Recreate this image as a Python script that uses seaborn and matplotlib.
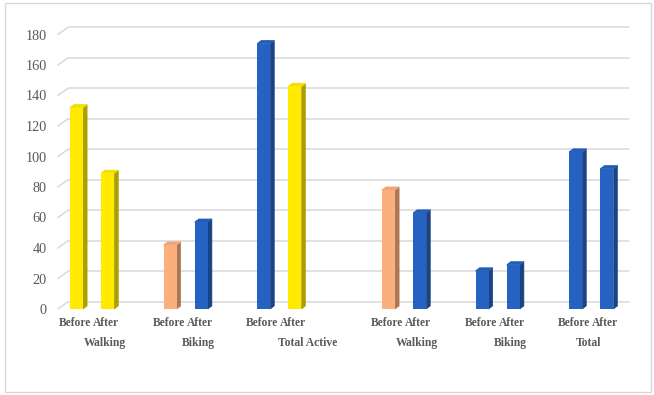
import numpy as np
import pandas as pd
import seaborn as sns
import matplotlib.pyplot as plt
from matplotlib.patches import Polygon, Rectangle
from matplotlib.colors import to_rgb

# date
group_names = ["Walking", "Biking", "Total Active", "Walking", "Biking", "Total"]
before = [132, 42, 174, 78, 25, 103]
after = [89, 57, 146, 63, 29, 92]
# sloturi goale dupa fiecare grup (ca randurile goale din tabelul Excel)
blank_slots = [1, 1, 2, 1, 1, 0]
y_ticks = list(range(0, 181, 20))

# culori
YELLOW = "#FFEA00"
PEACH = "#FBAF7D"
BLUE = "#2562C1"
before_colors = [YELLOW, PEACH, BLUE, PEACH, BLUE, BLUE]
after_colors = [YELLOW, BLUE, YELLOW, BLUE, BLUE, BLUE]
TEXT = "#595959"
GRID = "#D9D9D9"

# construiesc tabelul cu cate un rand pe bara
rows = []
centers = []
slot = 0
for g, name in enumerate(group_names):
    start = slot
    rows.append(dict(slot=slot, label="Before", value=before[g], color=before_colors[g]))
    slot += 1
    rows.append(dict(slot=slot, label="After", value=after[g], color=after_colors[g]))
    slot += 1
    slot += blank_slots[g]
    centers.append(start + (slot - start - 1) / 2)
df = pd.DataFrame(rows)
df["key"] = df["slot"].astype(str)
palette = dict(zip(df["key"], df["color"]))

sns.set_style("white")
plt.rcParams["font.family"] = ["Liberation Serif", "DejaVu Serif"]

fig = plt.figure(figsize=(6.54, 3.95), dpi=100)
ax = fig.add_axes([57.8 / 654, 86 / 395, 561.6 / 654, 274.5 / 395])

sns.barplot(data=df, x="slot", y="value", hue="key", palette=palette,
            native_scale=True, dodge=False, width=0.42, legend=False,
            saturation=1, linewidth=0, ax=ax, zorder=3)

x_lo, x_hi = -0.6, 17.4
ax.set_xlim(x_lo, x_hi)
ax.set_ylim(0, 180)

# adancimea peretelui din spate (efect 3D)
DX, DY = 0.32, 4.6
for v in y_ticks:
    ax.plot([x_lo + DX, x_hi + DX], [v + DY, v + DY], color=GRID, lw=1.1,
            zorder=0, clip_on=False)
    ax.plot([x_lo, x_lo + DX], [v, v + DY], color=GRID, lw=1.1,
            zorder=0, clip_on=False)

# fetele laterale si de sus ale barelor
BDX, BDY = 0.13, 2.0
for p in list(ax.patches):
    h = p.get_height()
    if not np.isfinite(h) or h == 0:
        continue
    x0 = p.get_x()
    x1 = x0 + p.get_width()
    c = np.array(to_rgb(p.get_facecolor()))
    side = c * 0.68
    top = c * 0.95
    ax.add_patch(Polygon([(x1, 0), (x1 + BDX, BDY), (x1 + BDX, h + BDY), (x1, h)],
                         closed=True, facecolor=side, edgecolor=side, lw=0.4,
                         zorder=2.9, clip_on=False))
    ax.add_patch(Polygon([(x0, h), (x0 + BDX, h + BDY), (x1 + BDX, h + BDY), (x1, h)],
                         closed=True, facecolor=top, edgecolor=top, lw=0.6,
                         zorder=2.9, clip_on=False))

sns.despine(ax=ax, left=True, bottom=True)
ax.set_xticks([])
ax.set_yticks(y_ticks)
ax.tick_params(axis="y", length=0, pad=8, labelsize=10.3, labelcolor=TEXT)
ax.set_xlabel("")
ax.set_ylabel("")

# etichetele pe doua nivele
xt = ax.get_xaxis_transform()
for _, r in df.iterrows():
    ax.text(r["slot"] - 0.05, -0.052, r["label"], transform=xt, ha="center",
            va="center", fontsize=8.3, fontweight="bold", color=TEXT)
for name, cx in zip(group_names, centers):
    ax.text(cx - 0.1, -0.125, name, transform=xt, ha="center", va="center",
            fontsize=8.4, fontweight="bold", color=TEXT)

# chenarul graficului
fig.patches.append(Rectangle((5 / 654, 3 / 395), 646 / 654, 389 / 395,
                             transform=fig.transFigure, fill=False,
                             edgecolor=GRID, lw=1))

fig.savefig("out.png", dpi=100)
